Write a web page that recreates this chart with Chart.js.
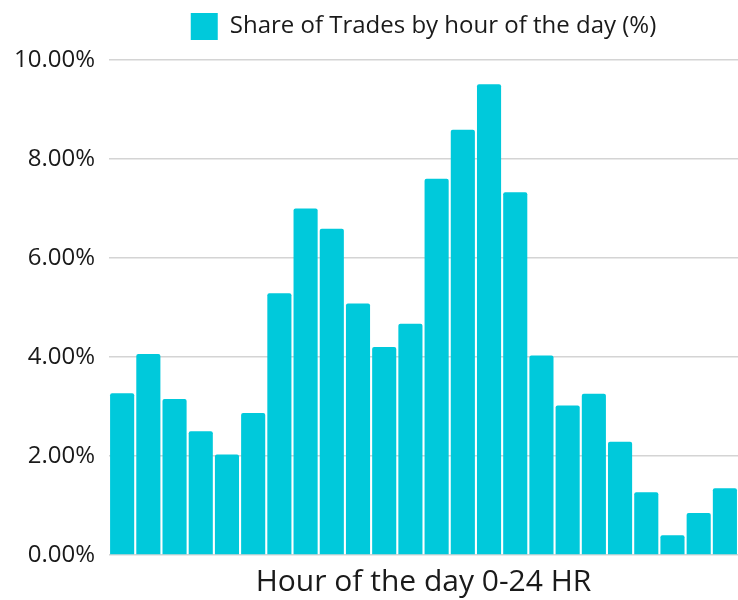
<!DOCTYPE html>
<html>
<head>
<meta charset="utf-8">
<script src="https://cdn.jsdelivr.net/npm/chart.js@4/dist/chart.umd.min.js"></script>
<style>
  html, body { margin: 0; padding: 0; background: #ffffff; }
  #wrap { width: 738px; height: 600px; }
</style>
</head>
<body>
<div id="wrap"><canvas id="c" width="738" height="600"></canvas></div>
<script>
const hours = ['0','1','2','3','4','5','6','7','8','9','10','11','12','13','14','15','16','17','18','19','20','21','22','23'];
const shareOfTrades = [3.27, 4.06, 3.15, 2.50, 2.03, 2.87, 5.29, 7.00, 6.59, 5.08, 4.20, 4.67, 7.60, 8.59, 9.51, 7.33, 4.03, 3.02, 3.26, 2.29, 1.27, 0.40, 0.85, 1.35];
const seriesLabel = 'Share of Trades by hour of the day (%)';
const xTitle = 'Hour of the day 0-24 HR';

const FONT = "'Open Sans', 'Roboto', sans-serif";
const BAR = '#00C9DB';

const legendMargin = {
  id: 'legendMargin',
  beforeInit(chart) {
    const origFit = chart.legend.fit;
    chart.legend.fit = function () {
      origFit.bind(chart.legend)();
      this.height += 10;
    };
  }
};

new Chart(document.getElementById('c'), {
  type: 'bar',
  data: {
    labels: hours,
    datasets: [{
      label: seriesLabel,
      data: shareOfTrades,
      backgroundColor: BAR,
      borderWidth: 0,
      borderRadius: 2,
      borderSkipped: 'bottom',
      barPercentage: 0.92,
      categoryPercentage: 1.0
    }]
  },
  plugins: [legendMargin],
  options: {
    responsive: false,
    animation: false,
    layout: { padding: { top: 3, right: 0, bottom: 0, left: 0 } },
    plugins: {
      tooltip: { enabled: false },
      legend: {
        position: 'top',
        fullSize: false,
        labels: {
          color: '#1a1a1a',
          font: { family: FONT, size: 24 },
          boxWidth: 27,
          boxHeight: 27,
          padding: 10
        }
      }
    },
    scales: {
      x: {
        grid: { display: false, drawTicks: false },
        border: { display: false },
        ticks: { display: false },
        title: {
          display: true,
          text: xTitle,
          color: '#1a1a1a',
          font: { family: FONT, size: 30 },
          padding: { top: 9, bottom: 0 }
        }
      },
      y: {
        min: 0,
        max: 10,
        grid: { color: '#d4d4d4', lineWidth: 1.5, drawTicks: false },
        border: { display: false },
        ticks: {
          stepSize: 2,
          padding: 14,
          color: '#1a1a1a',
          font: { family: FONT, size: 24 },
          callback: v => v.toFixed(2) + '%'
        }
      }
    }
  }
});
</script>
</body>
</html>
